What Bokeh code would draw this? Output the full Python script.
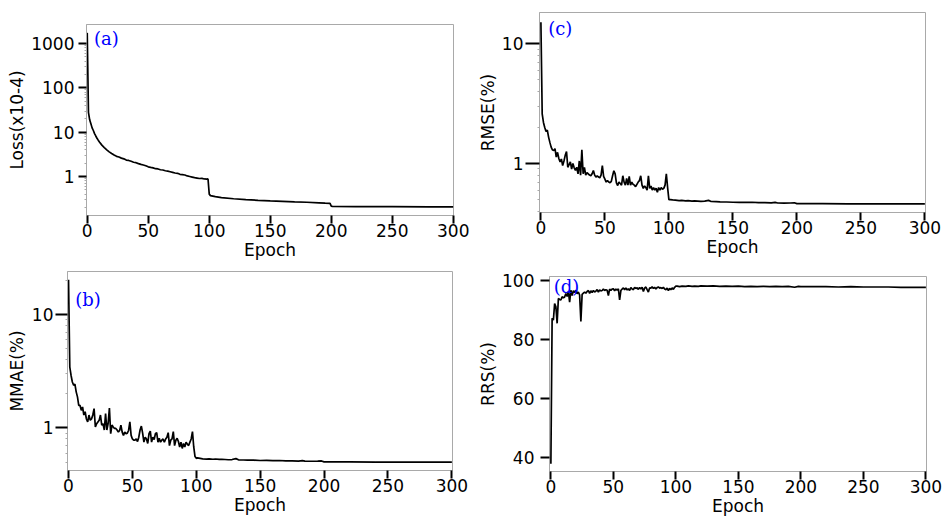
from bokeh.plotting import figure
from bokeh.models import Range1d, FixedTicker, Label, CustomJSTickFormatter
from bokeh.layouts import column, row
from bokeh.embed import file_html
from bokeh.resources import INLINE

# ---------------- data ----------------
x_ticks = [0, 50, 100, 150, 200, 250, 300]

loss_epochs = [0, 1, 2, 3, 4, 5, 6, 7, 8, 9, 10,
               12, 14, 16, 18, 20, 22, 24, 26, 28, 30,
               32, 34, 36, 38, 40, 42, 44, 46, 48, 50,
               52, 54, 56, 58, 60, 62, 64, 66, 68, 70,
               72, 74, 76, 78, 80, 82, 84, 86, 88, 90,
               92, 94, 96, 98,
               99, 100, 101, 105, 110, 120, 130, 140, 150, 160,
               170, 180, 190, 195, 199, 200, 201, 220, 250, 280, 300]
loss_values = [1740, 28, 19, 15.4, 12.5, 10.9, 9.3, 8.2, 7.3, 6.6, 6.0,
               5.1, 4.5, 4.0, 3.6, 3.3, 3.05, 2.85, 2.75, 2.6, 2.5,
               2.35, 2.3, 2.2, 2.1, 2.05, 1.95, 1.88, 1.82, 1.75, 1.65,
               1.6, 1.56, 1.5, 1.48, 1.42, 1.4, 1.35, 1.32, 1.28, 1.24,
               1.2, 1.18, 1.12, 1.1, 1.08, 1.03, 1.0, 0.97, 0.94, 0.92,
               0.9, 0.91, 0.88, 0.87,
               0.88, 0.40, 0.37, 0.35, 0.335, 0.315, 0.30, 0.29, 0.282, 0.275,
               0.268, 0.262, 0.255, 0.25, 0.248, 0.215, 0.212, 0.21, 0.208, 0.207, 0.206]

dense_epochs = list(range(0, 101))
tail_epochs_bc = [101, 103, 105, 108, 110, 113, 115, 118, 120, 125,
                  128, 131, 133, 137, 140, 145, 150, 155, 160, 165,
                  170, 175, 180, 183, 185, 190, 195, 198, 200, 210,
                  220, 240, 260, 280, 300]
tail_epochs_d = [101, 103, 105, 108, 110, 113, 115, 118, 120, 125,
                 130, 135, 140, 145, 150, 155, 160, 165, 170, 175,
                 180, 185, 190, 195, 198, 200, 210, 220, 230, 240,
                 250, 260, 270, 280, 290, 300]

rmse_dense = [15.1, 2.6, 2.2, 2.0, 1.85, 1.9, 1.66, 1.5, 1.37, 1.3,
              1.28, 1.33, 1.13, 1.24, 1.1, 1.03, 1.09, 0.96, 1.05, 1.17,
              1.26, 0.93, 0.98, 1.03, 0.90, 1.0, 0.92, 0.875, 0.93, 0.82,
              1.05, 0.80, 1.3, 0.82, 0.93, 0.80, 0.84, 0.82, 0.80, 0.79,
              0.82, 0.875, 0.80, 0.77, 0.79, 0.77, 0.76, 0.80, 0.96, 0.78,
              0.74, 0.70, 0.72, 0.70, 0.69, 0.71, 0.79, 0.87, 0.82, 0.69,
              0.655, 0.70, 0.68, 0.66, 0.79, 0.70, 0.66, 0.75, 0.66, 0.78,
              0.66, 0.70, 0.67, 0.66, 0.64, 0.67, 0.70, 0.72, 0.79, 0.66,
              0.62, 0.65, 0.63, 0.60, 0.79, 0.62, 0.65, 0.60, 0.63, 0.60,
              0.62, 0.575, 0.63, 0.60, 0.63, 0.61, 0.62, 0.66, 0.82, 0.63,
              0.50]
rmse_tail = [0.50, 0.497, 0.495, 0.49, 0.492, 0.487, 0.49, 0.486, 0.488, 0.483,
             0.485, 0.492, 0.482, 0.48, 0.478, 0.477, 0.475, 0.474, 0.473, 0.475,
             0.471, 0.472, 0.469, 0.474, 0.468, 0.467, 0.468, 0.47, 0.463, 0.462,
             0.462, 0.461, 0.461, 0.46, 0.46]

mmae_dense = [20.2, 3.44, 2.9, 2.54, 2.38, 2.43, 2.08, 1.88, 1.58, 1.58,
              1.43, 1.53, 1.30, 1.39, 1.20, 1.13, 1.30, 1.17, 1.20, 1.30,
              1.48, 1.02, 1.09, 1.13, 1.17, 1.30, 1.06, 1.09, 0.96, 1.34,
              0.96, 1.10, 1.50, 0.89, 1.06, 1.02, 0.99, 0.99, 0.96, 0.92,
              0.95, 1.06, 0.92, 0.86, 0.92, 0.89, 0.90, 0.95, 1.13, 0.86,
              0.80, 0.78, 0.78, 0.80, 0.76, 0.83, 0.96, 1.04, 0.90, 0.75,
              0.83, 0.80, 0.73, 0.89, 0.94, 0.75, 0.83, 0.79, 0.89, 0.91,
              0.75, 0.81, 0.75, 0.78, 0.80, 0.75, 0.80, 0.83, 0.91, 0.70,
              0.78, 0.80, 0.93, 0.70, 0.78, 0.81, 0.76, 0.68, 0.75, 0.66,
              0.73, 0.68, 0.75, 0.72, 0.70, 0.75, 0.80, 0.93, 0.68, 0.56,
              0.54]
mmae_tail = [0.545, 0.54, 0.535, 0.532, 0.535, 0.53, 0.533, 0.528, 0.53, 0.525,
             0.527, 0.537, 0.524, 0.522, 0.52, 0.52, 0.517, 0.518, 0.515, 0.517,
             0.513, 0.513, 0.511, 0.516, 0.51, 0.509, 0.51, 0.512, 0.503, 0.502,
             0.502, 0.501, 0.501, 0.50, 0.50]

rrs_dense = [37.9, 87.1, 86.5, 92.1, 91.0, 85.4, 93.8, 93.5, 93.3, 94.4,
             94.0, 94.3, 95.5, 94.5, 96.2, 92.6, 96.6, 94.8, 96.4, 95.8,
             96.6, 95.4, 96.0, 95.0, 86.0, 95.2, 95.6, 96.0, 95.6, 96.2,
             96.5, 95.5, 96.4, 95.8, 96.5, 96.0, 96.3, 96.8, 96.0, 96.7,
             96.4, 96.5, 97.0, 96.5, 96.8, 96.6, 94.8, 97.0, 96.5, 97.0,
             97.1, 96.4, 97.0, 96.6, 97.1, 93.3, 96.5, 97.0, 97.4, 96.8,
             97.4, 96.7, 97.1, 96.5, 97.5, 97.0, 96.8, 97.6, 97.2, 97.4,
             96.9, 97.5, 97.0, 97.6, 96.2, 97.3, 97.7, 96.8, 96.0, 97.4,
             97.3, 97.8, 97.2, 97.6, 97.0, 97.5, 97.7, 97.3, 97.5, 97.2,
             97.6, 97.0, 96.8, 97.3, 96.5, 97.2, 96.8, 97.4, 96.9, 97.6,
             98.0]
rrs_tail = [98.0, 97.8, 98.0, 97.9, 98.1, 97.9, 98.0, 97.9, 98.1, 98.0,
            98.1, 97.9, 98.0, 97.9, 98.0, 97.8, 97.9, 97.8, 97.9, 97.8,
            97.9, 97.8, 97.9, 97.6, 97.9, 97.8, 97.8, 97.8, 97.7, 97.8,
            97.7, 97.7, 97.7, 97.6, 97.6, 97.6]

log_major = [1, 10, 100, 1000]
log_minor = [0.2, 0.3, 0.4, 0.5, 0.6, 0.7, 0.8, 0.9,
             2, 3, 4, 5, 6, 7, 8, 9,
             20, 30, 40, 50, 60, 70, 80, 90,
             200, 300, 400, 500, 600, 700, 800, 900]
rrs_ticks = [40, 60, 80, 100]

SANS = "DejaVu Sans"
SERIF = "DejaVu Serif"
GRAY = "#a9a9a9"


def make_panel(width, height, borders, xr, yr, ytype, yticks, yminor, ylabel,
               ytick_out, ystandoff, ylabel_standoff, xs, ys, tag, tag_xy):
    p = figure(width=width, height=height, x_range=Range1d(*xr), y_range=Range1d(*yr),
               y_axis_type=ytype, output_backend="svg", toolbar_location=None,
               title=None,
               min_border_left=borders[0], min_border_right=borders[1],
               min_border_top=borders[2], min_border_bottom=borders[3])
    try:
        p.frame_align = False
    except Exception:
        pass
    p.grid.visible = False
    p.outline_line_color = GRAY
    p.outline_line_width = 1
    p.background_fill_color = "white"
    p.border_fill_color = "white"

    xa = p.xaxis[0]
    ya = p.yaxis[0]
    xa.ticker = FixedTicker(ticks=x_ticks, minor_ticks=[])
    ya.ticker = FixedTicker(ticks=yticks, minor_ticks=yminor)
    xa.formatter = CustomJSTickFormatter(code="return String(Math.round(tick));")
    ya.formatter = CustomJSTickFormatter(code="return String(Math.round(tick));")
    for ax in (xa, ya):
        ax.axis_line_color = GRAY
        ax.axis_line_width = 1
        ax.major_tick_line_color = "black"
        ax.major_tick_line_width = 2
        ax.major_tick_in = 0
        ax.minor_tick_in = 0
        ax.minor_tick_out = 2
        ax.minor_tick_line_color = GRAY
        ax.major_label_text_font = SANS
        ax.major_label_text_font_size = "17px"
        ax.major_label_text_color = "black"
        ax.axis_label_text_font = SANS
        ax.axis_label_text_font_size = "17px"
        ax.axis_label_text_font_style = "normal"
        ax.axis_label_text_color = "black"
    xa.major_tick_out = 8
    xa.major_label_standoff = 0
    xa.axis_label = "Epoch"
    xa.axis_label_standoff = 0
    ya.major_tick_out = ytick_out
    ya.major_label_standoff = ystandoff
    ya.axis_label = ylabel
    ya.axis_label_standoff = ylabel_standoff

    p.line(xs, ys, line_color="black", line_width=1.7)

    p.add_layout(Label(x=tag_xy[0], y=tag_xy[1], text=tag, text_align="left",
                       text_baseline="alphabetic", y_offset=6, text_font=SERIF,
                       text_font_size="18px", text_color="#0000ff"))
    return p


pa = make_panel(470, 262, (86, 17, 24, 47), (-0.6, 300.2), (0.1318, 2687), "log",
                log_major, log_minor, "Loss(x10-4)", 8, 4, 1,
                loss_epochs, loss_values, "(a)", (5.6, 930))
pc = make_panel(474, 262, (69, 19, 12, 50), (-1.1, 300.5), (0.390, 18.2), "log",
                [1, 10], log_minor, "RMSE(%)", 14, 2, 1,
                dense_epochs + tail_epochs_bc, rmse_dense + rmse_tail, "(c)", (5.7, 12.0))
pb = make_panel(470, 256, (67, 18, 9, 48), (-0.8, 300.5), (0.422, 23.9), "log",
                [1, 10], log_minor, "MMAE(%)", 12, 2, 2,
                dense_epochs + tail_epochs_bc, mmae_dense + mmae_tail, "(b)", (5.3, 12.1))
pd_ = make_panel(474, 256, (79, 18, 14, 46), (-1.1, 300.5), (35.24, 101.25), "linear",
                 rrs_ticks, [], "RRS(%)", 9, 6, 1,
                 dense_epochs + tail_epochs_d, rrs_dense + rrs_tail, "(d)", (2.2, 95.7))

layout = column(row(pa, pc), row(pb, pd_))

open("out.html", "w").write(file_html(layout, INLINE))
